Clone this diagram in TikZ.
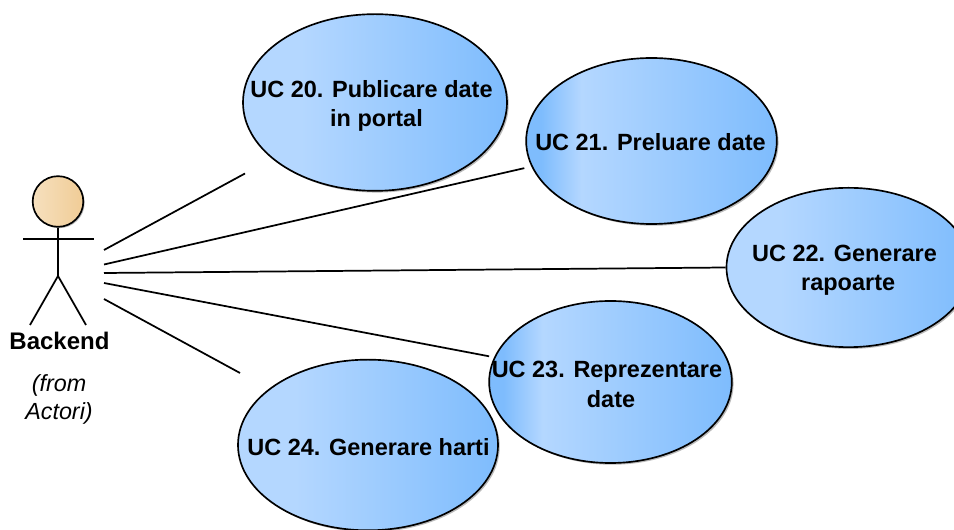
\documentclass[tikz,border=0pt]{standalone}
\usepackage{fontspec}
\setmainfont{Liberation Sans}
\usetikzlibrary{shapes.geometric,shadows}
\definecolor{ucL}{RGB}{180,215,255}
\definecolor{ucR}{RGB}{126,188,253}
\definecolor{headC}{RGB}{240,204,150}
\definecolor{headL}{RGB}{246,224,190}
\pgfdeclarehorizontalshading{ucplain}{100bp}{color(0bp)=(ucL);color(36bp)=(ucL);color(75bp)=(ucR);color(100bp)=(ucR)}
\pgfdeclarehorizontalshading{ucdark}{100bp}{color(0bp)=(ucR);color(28bp)=(ucR);color(36bp)=(ucL);color(75bp)=(ucR);color(100bp)=(ucR)}
\tikzset{x=0.75pt,y=-0.75pt,
 uc/.style={ellipse,draw=black,line width=1.25pt,inner sep=0pt,drop shadow={shadow xshift=1.3pt,shadow yshift=-1.3pt,fill=black!45,opacity=.6}},
 uctext/.style={inner sep=0pt,align=center,text=black,font=\fontsize{17.6pt}{22pt}\selectfont\bfseries},
 assoc/.style={draw=black,line width=1.3pt},
 lbl/.style={inner sep=0pt,align=center,text=black}}
\begin{document}
\begin{tikzpicture}
\useasboundingbox (0,0) rectangle (954,530);
\fill[white] (0,0) rectangle (954,530);
% connectors' free ends
\coordinate (a0) at (104,250);
\coordinate (a1) at (104,264.5);
\coordinate (a2) at (104,273);
\coordinate (a3) at (104,283);
\coordinate (a4) at (104,299);
\coordinate (b0) at (245,173.5);
\coordinate (b4) at (240,373);
% use cases
\node[uc,shading=ucplain,minimum width=198pt,minimum height=132.5pt] (u20) at (375,102.5) {};
\node[uc,shading=ucdark,minimum width=188pt,minimum height=124.5pt] (u21) at (651.5,141) {};
\node[uc,shading=ucplain,minimum width=183pt,minimum height=119.5pt] (u22) at (848.5,267.5) {};
\node[uc,shading=ucdark,minimum width=182pt,minimum height=121.5pt] (u23) at (610.5,382) {};
\node[uc,shading=ucplain,minimum width=195pt,minimum height=128pt] (u24) at (368,445) {};
\node[uctext] (t20) at (371.5,106) {UC 20. Publicare date\\\hspace*{7.5pt}in portal};
\node[uctext] (t21) at (650.5,142) {UC 21. Preluare date};
\node[uctext] (t22) at (844.5,270.5) {UC 22. Generare\\\hspace*{5.5pt}rapoarte};
\node[uctext] (t23) at (607,384.5) {UC 23. Reprezentare\\\hspace*{6pt}date};
\node[uctext] (t24) at (368.5,447) {UC 24. Generare harti};
% actor
\node[circle,draw=black,line width=1.25pt,left color=headL,right color=headC,minimum size=38pt,inner sep=0pt,drop shadow={shadow xshift=1pt,shadow yshift=-1pt,fill=black!45,opacity=.6}] (head) at (58,201.5) {};
\coordinate (hip) at (58,276);
\coordinate (armL) at (23,239);
\coordinate (armR) at (94,239);
\coordinate (footL) at (30,325);
\coordinate (footR) at (86,325);
\draw[assoc] (head.south) -- (hip);
\draw[assoc] (armL) -- (armR);
\draw[assoc] (footL) -- (hip) -- (footR);
\node[lbl,font=\fontsize{18pt}{21pt}\selectfont\bfseries] (name) at (59.5,341) {Backend};
\node[lbl,font=\fontsize{17.5pt}{21pt}\selectfont\itshape] (from) at (59,399.5) {(from\\Actori)};
% associations
\draw[assoc] (a0) -- (b0);
\draw[assoc,shorten >=5.4pt] (a1) -- (u21.192.8);
\draw[assoc] (a2) -- (u22.west);
\draw[assoc,shorten >=3.8pt] (a3) -- (u23.168.1);
\draw[assoc] (a4) -- (b4);
\end{tikzpicture}
\end{document}
